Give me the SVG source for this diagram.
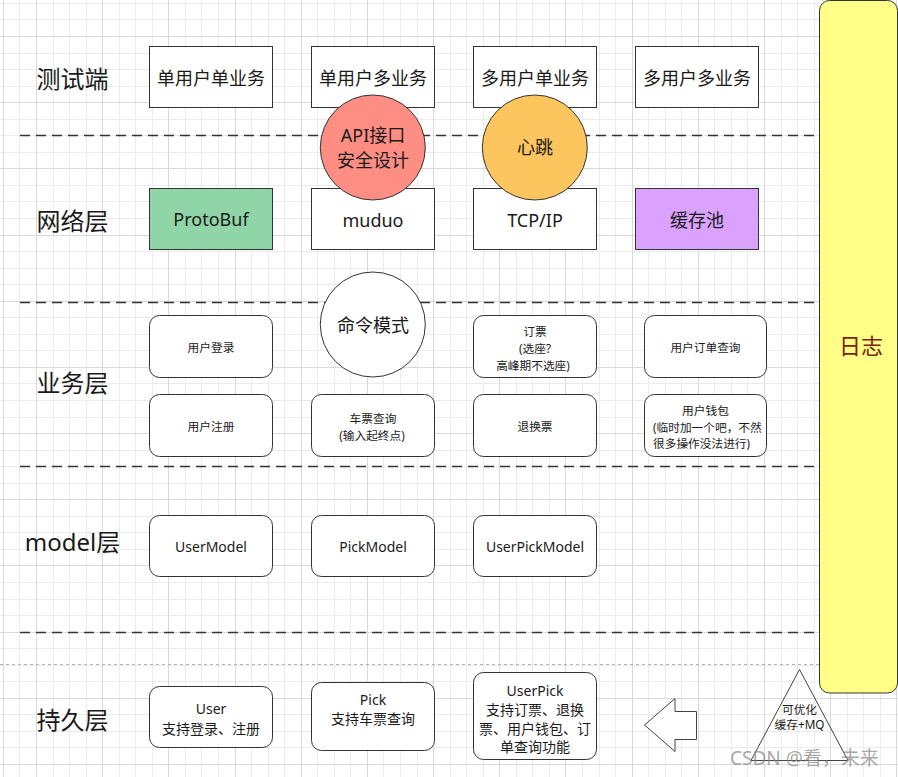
<svg xmlns="http://www.w3.org/2000/svg" width="898" height="777" viewBox="0 0 898 777">
<style>
.bg{fill:#fff}
.gmin{stroke:#ebebeb;stroke-width:1;fill:none}
.gmaj{stroke:#d9d9d9;stroke-width:1;fill:none}
.sep{stroke:#333;stroke-width:1.4;stroke-dasharray:10 6;fill:none}
.sep2{stroke:#b5b5b5;stroke-width:1;stroke-dasharray:3 3;fill:none}
.box{fill:#fff;stroke:#333;stroke-width:1}
.t{font-family:"Noto Sans","Noto Sans CJK SC",sans-serif;fill:#1a1a1a;text-anchor:middle;dominant-baseline:central}
.s{text-anchor:start}
.f24{font-size:24px}
.f22{font-size:22px}
.f18{font-size:18px}
.f14{font-size:14px}
.f12{font-size:11.7px}
</style>
<rect class="bg" x="0" y="0" width="898" height="777"/>
<g id="grid">
<path class="gmin" d="M19.5 0V777M53.5 0V777M69.5 0V777M86.5 0V777M119.5 0V777M135.5 0V777M152.5 0V777M185.5 0V777M201.5 0V777M218.5 0V777M251.5 0V777M268.5 0V777M284.5 0V777M317.5 0V777M334.5 0V777M350.5 0V777M383.5 0V777M400.5 0V777M417.5 0V777M450.5 0V777M466.5 0V777M483.5 0V777M516.5 0V777M532.5 0V777M549.5 0V777M582.5 0V777M599.5 0V777M615.5 0V777M648.5 0V777M665.5 0V777M681.5 0V777M714.5 0V777M731.5 0V777M747.5 0V777M781.5 0V777M797.5 0V777M814.5 0V777M847.5 0V777M863.5 0V777M880.5 0V777
M0 3.5H898M0 19.5H898M0 53.5H898M0 69.5H898M0 86.5H898M0 119.5H898M0 135.5H898M0 152.5H898M0 185.5H898M0 201.5H898M0 218.5H898M0 251.5H898M0 268.5H898M0 284.5H898M0 317.5H898M0 334.5H898M0 350.5H898M0 383.5H898M0 400.5H898M0 417.5H898M0 450.5H898M0 466.5H898M0 483.5H898M0 516.5H898M0 532.5H898M0 549.5H898M0 582.5H898M0 599.5H898M0 615.5H898M0 648.5H898M0 665.5H898M0 681.5H898M0 714.5H898M0 731.5H898M0 747.5H898"/>
<path class="gmaj" d="M3.5 0V777M36.5 0V777M102.5 0V777M168.5 0V777M235.5 0V777M301.5 0V777M367.5 0V777M433.5 0V777M499.5 0V777M565.5 0V777M632.5 0V777M698.5 0V777M764.5 0V777M830.5 0V777M896.5 0V777
M0 36.5H898M0 102.5H898M0 168.5H898M0 235.5H898M0 301.5H898M0 367.5H898M0 433.5H898M0 499.5H898M0 565.5H898M0 632.5H898M0 698.5H898M0 764.5H898"/>
</g>
<g id="separators">
<path class="sep" d="M20 135.5H819M20 302.5H819M20 466.5H819M20 632.5H819"/>
<path class="sep2" d="M0 664.5H819"/>
</g>
<g id="layer-labels">
<text class="t f24" x="72.5" y="78">测试端</text>
<text class="t f24" x="72.5" y="220">网络层</text>
<text class="t f24" x="72.5" y="382">业务层</text>
<text class="t f24" x="72.5" y="541">model层</text>
<text class="t f24" x="72.5" y="719">持久层</text>
</g>
<g id="node-single-user-single-biz"><rect class="box" x="149.5" y="46.5" width="123" height="61"/><text class="t f18" x="211" y="77.5">单用户单业务</text></g>
<g id="node-single-user-multi-biz"><rect class="box" x="311.5" y="46.5" width="123" height="61"/><text class="t f18" x="373" y="77.5">单用户多业务</text></g>
<g id="node-multi-user-single-biz"><rect class="box" x="473.5" y="46.5" width="123" height="61"/><text class="t f18" x="535" y="77.5">多用户单业务</text></g>
<g id="node-multi-user-multi-biz"><rect class="box" x="635.5" y="46.5" width="123" height="61"/><text class="t f18" x="697" y="77.5">多用户多业务</text></g>
<g id="node-protobuf"><rect class="box" x="149.5" y="188.5" width="123" height="61" style="fill:#90d5a7"/><text class="t f18" x="211" y="219">ProtoBuf</text></g>
<g id="node-muduo"><rect class="box" x="311.5" y="188.5" width="123" height="61"/><text class="t f18" x="373" y="219.5">muduo</text></g>
<g id="node-tcpip"><rect class="box" x="473.5" y="188.5" width="123" height="61"/><text class="t f18" x="535" y="219.5">TCP/IP</text></g>
<g id="node-cache-pool"><rect class="box" x="635.5" y="188.5" width="123" height="61" style="fill:#daa2fd"/><text class="t f18" x="697" y="219.5">缓存池</text></g>
<g id="node-api-security"><circle class="box" cx="372.8" cy="147.5" r="52.5" style="fill:#fe8d84"/><text class="t f18" x="373" y="135">API接口</text><text class="t f18" x="373" y="160">安全设计</text></g>
<g id="node-heartbeat"><circle class="box" cx="534.8" cy="147.5" r="52.5" style="fill:#fdc55d"/><text class="t f18" x="535" y="147">心跳</text></g>
<g id="node-command-pattern"><circle class="box" cx="372.8" cy="324.5" r="52.5"/><text class="t f18" x="373" y="325">命令模式</text></g>
<g id="node-login"><rect class="box" x="149.5" y="315.5" width="123" height="62" rx="10"/><text class="t f12" x="211" y="347">用户登录</text></g>
<g id="node-register"><rect class="box" x="149.5" y="394.5" width="123" height="62" rx="10"/><text class="t f12" x="211" y="426">用户注册</text></g>
<g id="node-ticket-query"><rect class="box" x="311.5" y="394.5" width="123" height="62" rx="10"/><text class="t f12" x="373" y="418">车票查询</text><text class="t f12" x="372" y="435">(输入起终点)</text></g>
<g id="node-booking"><rect class="box" x="473.5" y="315.5" width="123" height="62" rx="10"/><text class="t f12" x="535" y="331">订票</text><text class="t f12" x="535" y="348">(选座?</text><text class="t f12" x="533" y="364.5">高峰期不选座)</text></g>
<g id="node-refund"><rect class="box" x="473.5" y="394.5" width="123" height="62" rx="10"/><text class="t f12" x="535" y="426">退换票</text></g>
<g id="node-order-query"><rect class="box" x="644.5" y="315.5" width="122" height="62" rx="10"/><text class="t f12" x="705.5" y="347">用户订单查询</text></g>
<g id="node-wallet"><rect class="box" x="644.5" y="394.5" width="122" height="62" rx="10"/><text class="t f12" x="705.5" y="409.5">用户钱包</text><text class="t f12 s" x="653" y="426.5">(临时加一个吧，不然</text><text class="t f12 s" x="653" y="443">很多操作没法进行)</text></g>
<g id="node-usermodel"><rect class="box" x="149.5" y="515.5" width="123" height="61" rx="10"/><text class="t f14" x="211" y="546">UserModel</text></g>
<g id="node-pickmodel"><rect class="box" x="311.5" y="515.5" width="123" height="61" rx="10"/><text class="t f14" x="373" y="546">PickModel</text></g>
<g id="node-userpickmodel"><rect class="box" x="473.5" y="515.5" width="123" height="61" rx="10"/><text class="t f14" x="535" y="546">UserPickModel</text></g>
<g id="node-user"><rect class="box" x="149.5" y="686.5" width="123" height="61" rx="10"/><text class="t f14" x="211" y="708.5">User</text><text class="t f14" x="211" y="728.5">支持登录、注册</text></g>
<g id="node-pick"><rect class="box" x="311.5" y="682.5" width="123" height="68" rx="10"/><text class="t f14" x="373" y="699">Pick</text><text class="t f14" x="373" y="718.5">支持车票查询</text></g>
<g id="node-userpick"><rect class="box" x="473.5" y="672.5" width="123" height="87" rx="10"/><text class="t f14" x="535" y="690">UserPick</text><text class="t f14" x="535" y="709">支持订票、退换</text><text class="t f14" x="535" y="728">票、用户钱包、订</text><text class="t f14" x="535" y="746.5">单查询功能</text></g>
<g id="node-arrow"><polygon class="box" points="644.5,725 675,698.5 675,711.5 696.5,711.5 696.5,739.5 675,739.5 675,751.5" style="stroke:#444"/></g>
<g id="node-log"><rect class="box" x="819.5" y="0.5" width="78" height="692.5" rx="10" style="fill:#ffff88"/><text class="t f22" x="861" y="345" style="fill:#7a2410">日志</text></g>
<g id="node-optimize"><polygon class="box" points="799.5,669.5 751,760.5 848,760.5" style="fill:none;stroke:#444"/><text class="t f12" x="799.5" y="708.5">可优化</text><text class="t f12" x="799.5" y="724">缓存+MQ</text></g>
<g id="watermark"><text class="t s" x="730" y="758" style="font-size:19px;fill:#8a8a8a;fill-opacity:0.75">CSDN @看，未来</text></g>
</svg>
